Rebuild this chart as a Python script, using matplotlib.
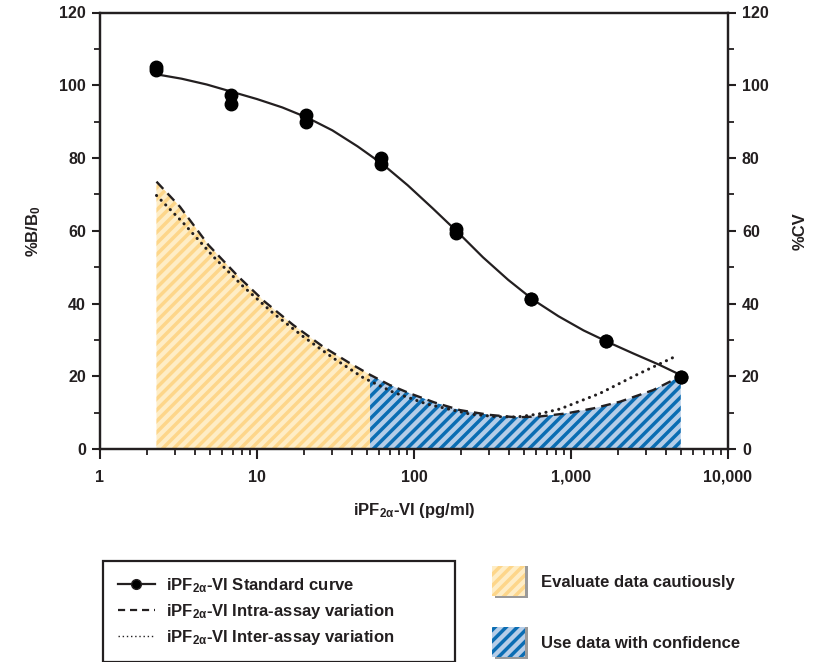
import matplotlib
matplotlib.use("agg")
import matplotlib.pyplot as plt
from matplotlib.lines import Line2D
from matplotlib.patches import Rectangle
from matplotlib.ticker import FixedLocator, FixedFormatter, NullFormatter

plt.rcParams["font.family"] = ["Liberation Sans", "DejaVu Sans"]
plt.rcParams["font.weight"] = "bold"
plt.rcParams["axes.labelweight"] = "bold"
plt.rcParams["mathtext.fontset"] = "custom"
plt.rcParams["mathtext.rm"] = "Liberation Sans:bold"
plt.rcParams["mathtext.it"] = "Liberation Sans:bold"
plt.rcParams["mathtext.bf"] = "Liberation Sans:bold"
plt.rcParams["mathtext.default"] = "rm"
plt.rcParams["hatch.linewidth"] = 2.5

INK = "#231F20"

# standard points (duplicates), pg/ml vs %B/B0
std_x = [2.29, 2.29, 6.86, 6.86, 20.6, 20.6, 61.7, 61.7,
         185, 185, 556, 556, 1667, 1667, 5000, 5000]
std_y = [104.3, 105.1, 97.4, 94.8, 91.9, 89.9, 80.1, 78.4,
         60.5, 59.3, 41.3, 41.3, 29.7, 29.7, 19.8, 19.8]

# fitted standard curve
curve_x = [2.29, 3.31, 4.79, 6.92, 10, 14.5, 20.9, 30.2, 43.7, 63.1, 91.2,
           132, 191, 275, 398, 575, 832, 1202, 1738, 2512, 3631, 5012]
curve_y = [103.0, 101.8, 100.2, 98.2, 96.2, 93.9, 91.1, 87.6, 83.2, 78.3, 72.5,
           66.1, 59.5, 52.7, 46.5, 41.0, 36.5, 32.6, 29.3, 26.2, 23.2, 20.3]

# intra-assay %CV (dashed)
intra_x = [2.29, 3.23, 4.9, 7.6, 11.2, 17, 26.4, 39, 52.5, 70, 94, 135,
           196, 300, 451, 650, 939, 1400, 2050, 3340, 5000]
intra_y = [73.5, 66.6, 56.1, 47.4, 40.5, 34.1, 28.1, 23.6, 20.4, 17.6, 15.3, 12.8,
           10.7, 9.4, 8.7, 9.0, 9.8, 11.2, 13.0, 16.2, 20.0]
split = 8  # index of 52.5 pg/ml, end of the "cautious" zone

# inter-assay %CV (dotted)
inter_x = [2.29, 3.4, 5.27, 8.2, 12.7, 19.7, 30.6, 47.5, 73.8, 120,
           227, 330, 451, 620, 851, 1530, 2620, 4600]
inter_y = [69.7, 62.1, 52.9, 44.6, 37.3, 30.9, 25.0, 19.6, 15.6, 12.4,
           9.6, 8.9, 8.8, 9.6, 11.0, 15.3, 20.4, 25.4]

x_ticks = [1, 10, 100, 1000, 10000]
x_tick_labels = ["1", "10", "100", "1,000", "10,000"]
y_ticks = [0, 20, 40, 60, 80, 100, 120]

YEL_BG, YEL_ST = "#FEEDC6", "#FDD68A"
BLU_BG, BLU_ST = "#B5CDE8", "#0B6DB3"

fig = plt.figure(figsize=(8.19, 6.62), dpi=100)
ax = fig.add_axes([100 / 819, 1 - 449 / 662, 628 / 819, 436.5 / 662])

ax.fill_between(intra_x[:split + 1], 0, intra_y[:split + 1], facecolor=YEL_BG,
                edgecolor=YEL_ST, hatch="///", linewidth=0, zorder=1)
ax.fill_between(intra_x[split:], 0, intra_y[split:], facecolor=BLU_BG,
                edgecolor=BLU_ST, hatch="///", linewidth=0, zorder=1)

ax.plot(intra_x, intra_y, color=INK, lw=1.7, dashes=(4.2, 2.6), zorder=3)
ax.plot(inter_x, inter_y, color=INK, lw=2.2, linestyle=(0, (0.05, 2.1)),
        dash_capstyle="round", zorder=3)
ax.plot(curve_x, curve_y, color=INK, lw=1.6, zorder=4)
ax.plot(std_x, std_y, "o", color="black", ms=9, zorder=5)

ax.set_xscale("log")
ax.set_xlim(1, 10000)
ax.set_ylim(0, 120)
ax.xaxis.set_major_locator(FixedLocator(x_ticks))
ax.xaxis.set_major_formatter(FixedFormatter(x_tick_labels))
ax.xaxis.set_minor_formatter(NullFormatter())
ax.set_yticks(y_ticks)
ax.set_yticks(range(10, 120, 20), minor=True)

ax2 = ax.twinx()
ax2.set_ylim(0, 120)
ax2.set_yticks(y_ticks)
ax2.set_yticks(range(10, 120, 20), minor=True)

for a in (ax, ax2):
    for s in a.spines.values():
        s.set_linewidth(1.6)
        s.set_color(INK)
    a.tick_params(which="major", length=6, width=1.5, color=INK, labelsize=11.5,
                  labelcolor=INK, pad=4)
    a.tick_params(which="minor", length=4.5, width=1.3, color=INK)
ax.tick_params(axis="x", which="major", length=7, pad=8)
ax.tick_params(axis="x", which="minor", length=4)

ax.set_ylabel("%B/B$_0$", fontsize=12, color=INK, labelpad=12)
ax2.set_ylabel("%CV", fontsize=12, color=INK, labelpad=17)
ax.set_xlabel(r"iPF$_{2\alpha}$-VI (pg/ml)", fontsize=12, color=INK, labelpad=12)

handles = [
    Line2D([], [], color=INK, lw=1.6, marker="o", ms=7, markerfacecolor="black"),
    Line2D([], [], color=INK, lw=1.6, dashes=(3.2, 2.2)),
    Line2D([], [], color=INK, lw=1.0, linestyle=(0, (1, 2))),
]
labels = [
    r"iPF$_{2\alpha}$-VI Standard curve",
    r"iPF$_{2\alpha}$-VI Intra-assay variation",
    r"iPF$_{2\alpha}$-VI Inter-assay variation",
]
leg = fig.legend(handles, labels, loc="upper left",
                 bbox_to_anchor=(103 / 819, 1 - 661 / 662, 352 / 819, 100 / 662),
                 mode="expand", fancybox=False, edgecolor=INK, framealpha=1,
                 borderaxespad=0, borderpad=0.9, labelspacing=0.42,
                 handlelength=2.2, handletextpad=0.7, prop={"size": 12, "weight": "bold"})
leg.get_frame().set_linewidth(1.6)
for t in leg.get_texts():
    t.set_color(INK)

# zone key patches with grey drop shadow
for (y0, bg, st, text) in [(566, YEL_BG, YEL_ST, "Evaluate data cautiously"),
                           (627, BLU_BG, BLU_ST, "Use data with confidence")]:
    fig.add_artist(Rectangle((495 / 819, 1 - (y0 + 32) / 662), 33 / 819, 32 / 662,
                             transform=fig.transFigure, facecolor="#9A9A9A",
                             linewidth=0))
    fig.add_artist(Rectangle((492 / 819, 1 - (y0 + 30) / 662), 33 / 819, 30 / 662,
                             transform=fig.transFigure, facecolor=bg, edgecolor=st,
                             hatch="///", linewidth=0))
    fig.text(541 / 819, 1 - (y0 + 16) / 662, text, fontsize=12, color=INK,
             va="center", ha="left")

fig.savefig("out.png", dpi=100)
